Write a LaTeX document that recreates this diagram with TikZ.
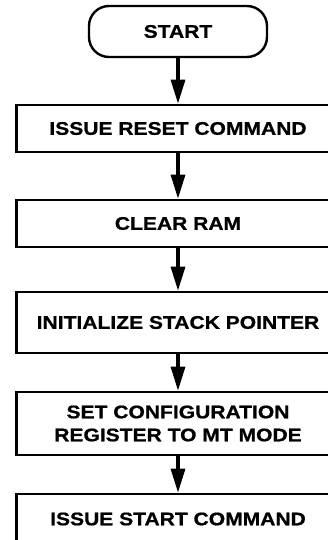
\documentclass[tikz,border=0pt]{standalone}
\usepackage{fontspec}
\setmainfont{Liberation Sans}[FakeStretch=1.15,BoldFeatures={FakeBold=0.8}]
\usetikzlibrary{arrows.meta}
\begin{document}
\begin{tikzpicture}[x=1pt,y=1pt,
  every node/.style={font=\bfseries\fontsize{18.3}{23}\selectfont, align=center, inner sep=0pt},
  stepbox/.style={draw, line width=2.6pt, minimum width=323pt},
  termbox/.style={draw, line width=2.4pt, rounded corners=20pt, minimum width=178pt, minimum height=51pt},
  flow/.style={line width=3.2pt, -{Triangle[length=24pt,width=14pt]}}]
\useasboundingbox (0,0) rectangle (328,-540);
\node[termbox] (start) at (178,-31.5) {START};
\node[stepbox, minimum height=47pt] (b1) at (178,-128.5) {ISSUE RESET COMMAND};
\node[stepbox, minimum height=47pt] (b2) at (178,-223.5) {CLEAR RAM};
\node[stepbox, minimum height=61pt] (b3) at (178,-322.5) {INITIALIZE STACK POINTER};
\node[stepbox, minimum height=63pt] (b4) at (178,-423.5) {SET CONFIGURATION\\REGISTER TO MT MODE};
\node[stepbox, minimum height=50pt] (b5) at (178,-519) {ISSUE START COMMAND};
\draw[flow] (start.south) -- (b1.north);
\draw[flow] (b1.south) -- (b2.north);
\draw[flow] (b2.south) -- (b3.north);
\draw[flow] (b3.south) -- (b4.north);
\draw[flow] (b4.south) -- (b5.north);
\end{tikzpicture}
\end{document}
